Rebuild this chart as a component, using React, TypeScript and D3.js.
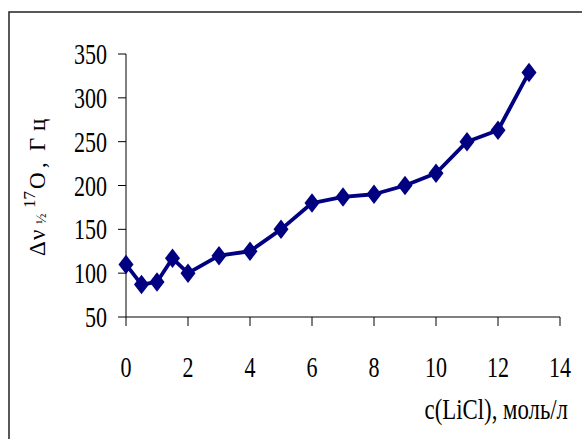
import React from "react";
import * as d3 from "d3";

const concentrations = [0, 0.5, 1, 1.5, 2, 3, 4, 5, 6, 7, 8, 9, 10, 11, 12, 13];
const widths = [110, 87, 90, 117, 100, 120, 125, 150, 180, 187, 190, 200, 214, 250, 263, 329];
const xTicks = [0, 2, 4, 6, 8, 10, 12, 14];
const yTicks = [50, 100, 150, 200, 250, 300, 350];

const W = 582;
const H = 439;
const FONT = "'Liberation Serif', 'Times New Roman', serif";
const SX = 0.76;
const NAVY = "#000080";

const tallDiamond = {
  draw(ctx: any, size: number) {
    const hw = Math.sqrt(size) / 2;
    const hh = hw * 1.3;
    ctx.moveTo(0, -hh);
    ctx.lineTo(hw, 0);
    ctx.lineTo(0, hh);
    ctx.lineTo(-hw, 0);
    ctx.closePath();
  },
};

export default function App() {
  const x = d3.scaleLinear().domain([0, 14]).range([126, 560]);
  const y = d3.scaleLinear().domain([50, 350]).range([317, 54]);
  const line = d3
    .line<number>()
    .x((_, i) => x(concentrations[i]))
    .y((d) => y(d));
  const diamond = d3.symbol().type(tallDiamond as any).size(225)() as string;

  return (
    <svg
      width={W}
      height={H}
      style={{ position: "absolute", left: 0, top: 0, display: "block", background: "#fff" }}
    >
      <rect x={9} y={12} width={W + 20} height={H + 20} fill="none" stroke="#222" strokeWidth={1.5} />
      <line x1={x(0)} x2={x(0)} y1={y(350)} y2={y(50)} stroke="#000" strokeWidth={1} />
      <line x1={x(0)} x2={x(14)} y1={y(50)} y2={y(50)} stroke="#000" strokeWidth={1} />
      {yTicks.map((t) => (
        <g key={"y" + t}>
          <line x1={x(0) - 8} x2={x(0)} y1={y(t)} y2={y(t)} stroke="#000" strokeWidth={1} />
          <text
            transform={`translate(${x(0) - 19},${y(t) + 10}) scale(${SX},1)`}
            textAnchor="end"
            fontFamily={FONT}
            fontSize={29}
            fill="#000"
          >
            {t}
          </text>
        </g>
      ))}
      {xTicks.map((t) => (
        <g key={"x" + t}>
          <line x1={x(t)} x2={x(t)} y1={y(50)} y2={y(50) + 9} stroke="#000" strokeWidth={1} />
          <text
            transform={`translate(${x(t)},${377}) scale(${SX},1)`}
            textAnchor="middle"
            fontFamily={FONT}
            fontSize={29}
            fill="#000"
          >
            {t}
          </text>
        </g>
      ))}
      <text
        transform={`translate(568,419) scale(${SX},1)`}
        textAnchor="end"
        fontFamily={FONT}
        fontSize={30}
        fill="#000"
      >
        c(LiCl), моль/л
      </text>
      <g transform="translate(45,256) rotate(-90)" fontFamily={FONT} fill="#000">
        <text x={0} y={0} fontSize={23}>Δ</text>
        <text x={16} y={0} fontSize={23}>ν</text>
        <text x={32} y={1} fontSize={14}>½</text>
        <text x={48} y={-10} fontSize={17}>17</text>
        <text x={67} y={0} fontSize={23}>O</text>
        <text x={88} y={0} fontSize={23}>,</text>
        <text x={105} y={0} fontSize={23}>Г</text>
        <text x={125} y={0} fontSize={23}>ц</text>
      </g>
      <path d={line(widths) || ""} fill="none" stroke={NAVY} strokeWidth={3.8} strokeLinejoin="round" />
      {widths.map((v, i) => (
        <path
          key={"m" + i}
          d={diamond}
          transform={`translate(${x(concentrations[i])},${y(v)})`}
          fill={NAVY}
        />
      ))}
    </svg>
  );
}
